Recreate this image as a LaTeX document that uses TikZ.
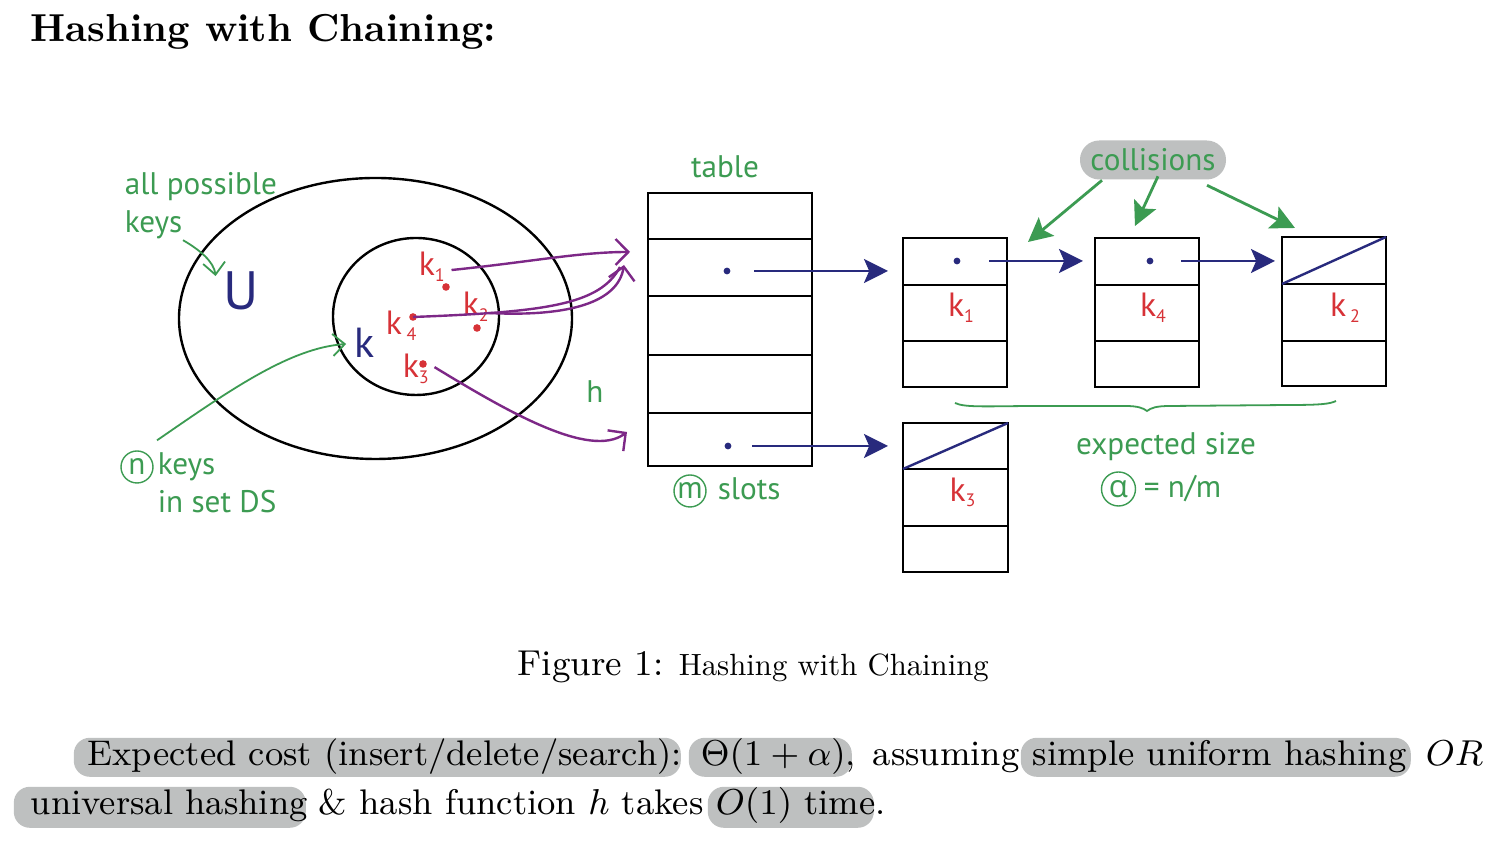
\documentclass[tikz,border=0pt]{standalone}
\usepackage{graphicx}
\usepackage{fontspec}
\newfontfamily\dg{PT Sans}
\newfontfamily\dga{Open Sans}
\usetikzlibrary{arrows.meta,shapes.geometric,calc}
\definecolor{grn}{RGB}{60,155,82}
\definecolor{kred}{RGB}{215,50,55}
\definecolor{navy}{RGB}{40,42,125}
\definecolor{purp}{RGB}{125,40,135}
\definecolor{hlg}{RGB}{190,192,192}
\newcommand\kk[2][0pt]{k\hspace{#1}\raisebox{-1.4pt}{\fontsize{4.5}{5}\selectfont #2}}
\begin{document}
\begin{tikzpicture}[x=0.25pt,y=-0.25pt,
  cell/.style={draw, line width=0.65pt, minimum width=26pt, inner sep=0pt, outer sep=0pt, anchor=north west},
  slot/.style={cell, minimum width=41pt},
  glab/.style={text=grn, font=\dg\fontsize{7.8}{9}\selectfont, inner sep=0pt},
  klab/.style={text=kred, font=\dg\fontsize{8.4}{9}\selectfont, inner sep=0pt},
  pdot/.style={circle, fill=navy, inner sep=0pt, minimum size=1.7pt},
  rdot/.style={circle, fill=kred, inner sep=0pt, minimum size=1.9pt},
  narrow/.style={navy, line width=0.6pt, -{Stealth[length=6pt,width=6pt,inset=1.3pt]}},
  parrow/.style={purp, line width=0.6pt, -{Straight Barb[length=3.2pt,width=6.5pt]}},
  garrow/.style={grn, line width=0.45pt, -{Straight Barb[length=3pt,width=5.5pt]}},
  carrow/.style={grn, line width=0.7pt, -{Stealth[length=6pt,width=6pt,inset=1.2pt]}},
  circ/.style={circle, draw=grn, line width=0.35pt, inner sep=0pt, minimum size=8pt, text=grn, font=\dg\fontsize{7.8}{9}\selectfont},
  hl/.style={fill=hlg, rounded corners=4pt, inner sep=0pt, anchor=north west},
  body/.style={font=\fontsize{8.9}{11}\selectfont, inner sep=0pt, anchor=base west},
]
\useasboundingbox (0,0) rectangle (1492,842);
\fill[white] (0,0) rectangle (1492,842);

% title
\node[anchor=base west, inner sep=0pt, font=\fontsize{9.75}{12}\selectfont\bfseries] (title) at (30,42) {Hashing with Chaining:};

% universe
\node[draw, ellipse, line width=0.6pt, minimum width=98.25pt, minimum height=70.25pt, inner sep=0pt] (Uell) at (375.5,318.5) {};
\node[draw, ellipse, line width=0.6pt, minimum width=41.5pt, minimum height=39.25pt, inner sep=0pt] (Kell) at (416,316.5) {};
\node[text=navy, font=\dg\fontsize{13.5}{14}\selectfont, inner sep=0pt] (U) at (241,291) {U};
\node[text=navy, font=\dg\fontsize{10.5}{12}\selectfont, inner sep=0pt] (K) at (365,343) {k};

\node[glab, anchor=base west] (allp) at (124,195) {all possible};
\node[glab, anchor=base west] (keys1) at (124,233) {keys};
\node[circ] (ncirc) at (137,467) {n};
\node[glab, anchor=base west] (keys2) at (157,475) {keys};
\node[glab, anchor=base west] (inset) at (157,513) {in set DS};

\draw[garrow] (keys1.south east) .. controls (200,250) and (214,262) .. ($(U.north west)+(-7,5)$);
\draw[garrow] ($(keys2.north west)+(0,-12)$) .. controls (230,390) and (290,348) .. ($(K.west)+(-8,1)$);

% keys in set
\node[rdot] (r1) at (446,287) {};
\node[rdot] (r2) at (477,328) {};
\node[rdot] (r4) at (413,317) {};
\node[rdot] (r3) at (423,364) {};
\node[klab, anchor=base west] (k1) at (418,276) {\kk{1}};
\node[klab, anchor=base west] (k2) at (462,316) {\kk{2}};
\node[klab, anchor=base west] (k4) at (385,335) {\kk[1.2pt]{4}};
\node[klab, anchor=base west] (k3) at (402,378) {\kk{3}};

% hash arrows
\coordinate (hA) at (630,252);
\coordinate (hB) at (620,267);
\coordinate (hB2) at (624,265);
\coordinate (hC) at (627,432);
\draw[parrow] ($(k1.east)+(6,3)$) .. controls (530,262) and (580,252) .. (hA);
\draw[purp, line width=0.6pt] (r4.center) .. controls (545,312) and (600,305) .. (hB);
\draw[parrow] ($(k2.east)+(0,6)$) .. controls (570,317) and (618,302) .. (hB2);
\draw[parrow] ($(k3.east)+(5,-2)$) .. controls (505,410) and (590,460) .. (hC);
\node[glab, anchor=base] (h) at (595,403) {h};

% table
\node[glab, anchor=base] (tablelab) at (725,178) {table};
\node[slot, minimum height=11.5pt] (s1) at (648,193) {};
\node[slot, minimum height=14.25pt] (s2) at (648,239) {};
\node[slot, minimum height=14.75pt] (s3) at (648,296) {};
\node[slot, minimum height=14.5pt] (s4) at (648,355) {};
\node[slot, minimum height=13.25pt] (s5) at (648,413) {};
\node[pdot] (d1) at (727,271) {};
\node[pdot] (d2) at (728,446) {};
\node[circ] (mcirc) at (690,491) {m};
\node[glab, anchor=base west] (slots) at (717,500) {slots};

% list boxes
\node[cell, minimum height=11.75pt] (b1a) at (903,238) {};
\node[cell, minimum height=14pt] (b1b) at (903,285) {};
\node[cell, minimum height=11.5pt] (b1c) at (903,341) {};
\node[cell, minimum height=11.75pt] (b2a) at (1095,238) {};
\node[cell, minimum height=14pt] (b2b) at (1095,285) {};
\node[cell, minimum height=11.5pt] (b2c) at (1095,341) {};
\node[cell, minimum height=11.75pt] (b3a) at (1282,237) {};
\node[cell, minimum height=14.25pt] (b3b) at (1282,284) {};
\node[cell, minimum height=11.25pt] (b3c) at (1282,341) {};
\node[cell, minimum width=26.25pt, minimum height=11.5pt] (b4a) at (903,423) {};
\node[cell, minimum width=26.25pt, minimum height=14.25pt] (b4b) at (903,469) {};
\node[cell, minimum width=26.25pt, minimum height=11.5pt] (b4c) at (903,526) {};

\node[klab] (L1) at ($(b1b.center)+(6,-5)$) {\kk{1}};
\node[klab] (L4) at ($(b2b.center)+(6,-5)$) {\kk{4}};
\node[klab] (L2) at ($(b3b.center)+(11,-5)$) {\kk[1pt]{2}};
\node[klab] (L3) at ($(b4b.center)+(7,-5)$) {\kk{3}};

\node[pdot] (e1) at (957,261) {};
\node[pdot] (e2) at (1150,261) {};
\draw[narrow, shorten <=5.75pt, shorten >=3.75pt] (d1) -- (d1 -| b1a.west);
\draw[narrow, shorten <=5pt, shorten >=3.75pt] (d2) -- (d2 -| b4a.west);
\draw[narrow, shorten <=7pt, shorten >=3pt] (e1) -- (e1 -| b2a.west);
\draw[narrow, shorten <=6.75pt, shorten >=1.75pt] (e2) -- (e2 -| b3a.west);
\draw[navy, line width=0.6pt] (b3a.south west) -- (b3a.north east);
\draw[navy, line width=0.6pt] (b4a.south west) -- (b4a.north east);

% collisions
\node[fill=hlg, rounded corners=4.8pt, minimum width=36.5pt, minimum height=9.75pt, inner sep=0pt, text=grn, font=\dg\fontsize{7.8}{9}\selectfont] (coll) at (1153,160) {collisions};
\draw[carrow] ($(coll.south)+(-51,0)$) -- ($(b1a.north east)+(21,4)$);
\draw[carrow] ($(coll.south)+(5,-4)$) -- ($(b2a.north)+(-12,-12)$);
\draw[carrow] ($(coll.south)+(54,5)$) -- ($(b3a.north west)+(13,-9)$);

% brace
\draw[grn, line width=0.45pt] (b1c.south) ++(0,16) coordinate (brL)
  .. controls (965,408) and (990,406) .. (1040,406) -- (1125,406)
  .. controls (1138,406) and (1143,408) .. (1147,411)
  .. controls (1151,408) and (1156,406) .. (1170,406) -- (1290,405)
  .. controls (1320,405) and (1330,404) .. (1336,401) coordinate (brR);
\node[glab, anchor=base] (expsize) at (1166,455) {expected size};
\node[circ, minimum size=8.5pt, font=\dga\fontsize{7.8}{9}\selectfont] (acirc) at (1118.5,489) {α};
\node[glab, anchor=base west] (nm) at (1143,498) {= n/m};

% caption
\node[anchor=base west, inner sep=0pt, font=\fontsize{9}{11}\selectfont] (figlab) at (517,676) {Figure 1:};
\node[anchor=base west, inner sep=0pt, font=\fontsize{10}{12}\selectfont] (figtxt) at (678,676) {\scalebox{0.768}{Hashing with Chaining}};

% highlights
\node[hl, minimum width=151.75pt, minimum height=9.75pt] (hl1) at (73,737) {};
\node[hl, minimum width=40.75pt, minimum height=9.75pt] (hl2) at (688,737) {};
\node[hl, minimum width=97.5pt, minimum height=9.75pt] (hl3) at (1020,737) {};
\node[hl, minimum width=73pt, minimum height=10.25pt] (hl4) at (13,786) {};
\node[hl, minimum width=41.5pt, minimum height=10.25pt] (hl5) at (707,786) {};

\node[body] (t1) at (87,766) {Expected cost (insert/delete/search):};
\node[body] (t2) at (700,766) {$\Theta(1+\alpha)$,};
\node[body] (t3) at (872,766) {assuming};
\node[body] (t4) at (1032,766) {simple uniform hashing};
\node[body] (t5) at (1425,766) {$OR$};
\node[body] (t6) at (30,815) {universal hashing};
\node[body] (t7) at (318,815) {\& hash function $h$ takes};
\node[body] (t8) at (715,815) {$O(1)$ time.};
\end{tikzpicture}
\end{document}
